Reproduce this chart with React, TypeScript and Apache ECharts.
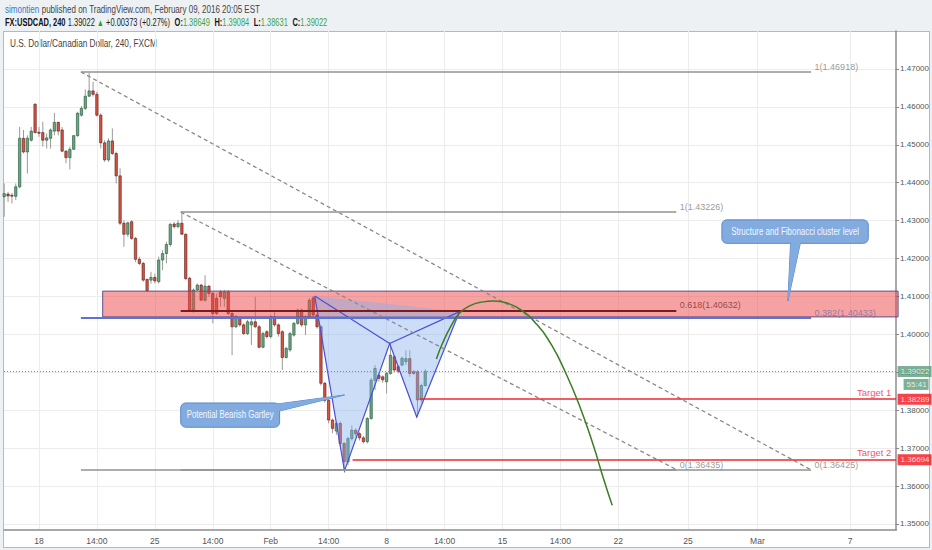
import React, { useEffect, useRef } from 'react';
import * as echarts from 'echarts';

// ---- axis ----
const X_MIN = -9.05;
const X_MAX = 221.9;
const Y_MIN = 1.3484;
const Y_MAX = 1.48;
const xTickPos = [0, 15, 30, 45, 60, 75, 90, 105, 120, 135, 150, 168, 186, 210];
const xTickLabels = ['18', '14:00', '25', '14:00', 'Feb', '14:00', '8', '14:00', '15', '14:00', '22', '25', 'Mar', '7'];
const yTicks = [1.35, 1.36, 1.37, 1.38, 1.39, 1.4, 1.41, 1.42, 1.43, 1.44, 1.45, 1.46, 1.47];

// ---- candles (4h bars, first bar index) ----
const barStart = -9;
const opens = [
  1.4363, 1.4370, 1.4367, 1.4364, 1.4389, 1.4517, 1.4481, 1.4512, 1.4607,
  1.4533, 1.4532, 1.4512, 1.4517, 1.4536, 1.4559, 1.4539, 1.4483, 1.4466, 1.4488,
  1.4524, 1.4578, 1.4596, 1.4628, 1.4642, 1.4633, 1.4578, 1.4505, 1.4460, 1.4510,
  1.4477, 1.4418, 1.4293, 1.4264, 1.4297, 1.4253, 1.4198, 1.4187, 1.4145, 1.4143,
  1.4150, 1.4139, 1.4196, 1.4213, 1.4237, 1.4291, 1.4284, 1.4293, 1.4264, 1.4148,
  1.4064, 1.4117, 1.4130, 1.4090, 1.4127, 1.4108, 1.4095, 1.4112, 1.4095, 1.4112,
  1.4055, 1.4020, 1.4042, 1.4025, 1.4002, 1.4025, 1.4033, 1.4020, 1.3966, 1.4007,
  1.3994, 1.4046, 1.4025, 1.4007, 1.3939, 1.3959, 1.3998, 1.4029, 1.4064, 1.4025,
  1.4046, 1.4096, 1.4051, 1.4020, 1.3871, 1.3826, 1.3774, 1.3745, 1.3765, 1.3712,
  1.3664, 1.3725, 1.3747, 1.3738, 1.3727, 1.3717, 1.3778, 1.3879, 1.3892, 1.3888,
  1.3875, 1.3897, 1.3941, 1.3915, 1.3919, 1.3928, 1.3936, 1.3901, 1.3901, 1.3827,
  1.38649,
];
const closes = [
  1.4371, 1.4365, 1.4366, 1.4389, 1.4517, 1.4481, 1.4517, 1.4536, 1.4532,
  1.4531, 1.4512, 1.4518, 1.4539, 1.4559, 1.4536, 1.4483, 1.4466, 1.4488, 1.4524,
  1.4583, 1.4596, 1.4628, 1.4642, 1.4633, 1.4578, 1.4505, 1.4460, 1.4510, 1.4477,
  1.4418, 1.4293, 1.4264, 1.4294, 1.4253, 1.4198, 1.4187, 1.4143, 1.4115, 1.4150,
  1.4141, 1.4196, 1.4213, 1.4237, 1.4290, 1.4284, 1.4293, 1.4264, 1.4147, 1.4064,
  1.4117, 1.4130, 1.4090, 1.4127, 1.4108, 1.4055, 1.4055, 1.4099, 1.4112, 1.4055,
  1.4020, 1.4046, 1.4025, 1.4002, 1.4033, 1.4033, 1.4020, 1.3966, 1.4002, 1.3994,
  1.4046, 1.4025, 1.4002, 1.3939, 1.3963, 1.4002, 1.4029, 1.4064, 1.4025, 1.4046,
  1.4090, 1.4051, 1.4020, 1.3871, 1.3826, 1.3774, 1.3752, 1.3765, 1.3712, 1.3664,
  1.3725, 1.3747, 1.3738, 1.3727, 1.3717, 1.3778, 1.3879, 1.3910, 1.3884, 1.3880,
  1.3897, 1.3945, 1.3906, 1.3902, 1.3937, 1.3936, 1.3897, 1.3897, 1.3827, 1.3865,
  1.39022,
];
const lows = [
  1.4310, 1.4349, 1.4345, 1.4354, 1.4385, 1.4477, 1.4424, 1.4508, 1.4530,
  1.4521, 1.4495, 1.4490, 1.4490, 1.4525, 1.4525, 1.4481, 1.4451, 1.4435, 1.4486,
  1.4521, 1.4574, 1.4591, 1.4627, 1.4627, 1.4574, 1.4490, 1.4455, 1.4455, 1.4473,
  1.4398, 1.4288, 1.4231, 1.4257, 1.4249, 1.4191, 1.4183, 1.4139, 1.4112, 1.4134,
  1.4134, 1.4134, 1.4169, 1.4187, 1.4231, 1.4279, 1.4280, 1.4262, 1.4143, 1.4060,
  1.4057, 1.4115, 1.4089, 1.4086, 1.4099, 1.4029, 1.4051, 1.4073, 1.4073, 1.4051,
  1.3945, 1.4016, 1.4020, 1.3998, 1.3998, 1.3972, 1.4016, 1.3963, 1.3963, 1.3989,
  1.3989, 1.4020, 1.3994, 1.3906, 1.3936, 1.3954, 1.3994, 1.4025, 1.4020, 1.3998,
  1.4042, 1.4045, 1.4015, 1.3865, 1.3820, 1.3765, 1.3739, 1.3735, 1.3705, 1.3643,
  1.3655, 1.3720, 1.3730, 1.3720, 1.3712, 1.3712, 1.3775, 1.3853, 1.3875, 1.3872,
  1.3844, 1.3893, 1.3900, 1.3897, 1.3915, 1.3919, 1.3888, 1.3893, 1.3782, 1.3820,
  1.38631,
];
const highs = [
  1.4398, 1.4376, 1.4373, 1.4398, 1.4547, 1.4539, 1.4525, 1.4547, 1.4609,
  1.4547, 1.4561, 1.4530, 1.4543, 1.4584, 1.4561, 1.4547, 1.4486, 1.4495, 1.4525,
  1.4587, 1.4602, 1.4646, 1.4690, 1.4666, 1.4640, 1.4583, 1.4512, 1.4517, 1.4543,
  1.4482, 1.4438, 1.4301, 1.4297, 1.4301, 1.4257, 1.4205, 1.4191, 1.4147, 1.4165,
  1.4160, 1.4205, 1.4222, 1.4244, 1.4294, 1.4297, 1.4301, 1.4323, 1.4266, 1.4152,
  1.4121, 1.4134, 1.4133, 1.4156, 1.4130, 1.4112, 1.4108, 1.4117, 1.4117, 1.4117,
  1.4060, 1.4051, 1.4046, 1.4029, 1.4038, 1.4042, 1.4099, 1.4025, 1.4007, 1.4011,
  1.4051, 1.4064, 1.4029, 1.4011, 1.3967, 1.4007, 1.4033, 1.4068, 1.4068, 1.4051,
  1.4095, 1.4101, 1.4055, 1.4025, 1.3875, 1.3830, 1.3778, 1.3770, 1.3770, 1.3716,
  1.3730, 1.3760, 1.3752, 1.3742, 1.3732, 1.3782, 1.3885, 1.3919, 1.3897, 1.3892,
  1.3901, 1.3976, 1.3945, 1.3919, 1.3941, 1.3958, 1.3958, 1.3906, 1.3906, 1.3870,
  1.39084,
];

// ---- fibonacci retracements ----
const fib1X = [10.86, 199.9];
const fib1Levels = [1.46918, 1.40433, 1.36425];
const fib1Labels = ['1(1.46918)', '0.382(1.40433)', '0(1.36425)'];
const fib2X = [36.7, 165];
const fib2Levels = [1.43226, 1.40632, 1.36435];
const fib2Labels = ['1(1.43226)', '0.618(1.40632)', '0(1.36435)'];

// ---- structure zone ----
const zoneX = [16.5, X_MAX];
const zoneY = [1.4046, 1.4114];

// ---- gartley XABCD ----
const gartleyX = [71.4, 79.1, 90.8, 97.8, 108.9];
const gartleyY = [1.4101, 1.364, 1.3976, 1.3782, 1.406];

// ---- projection arc ----
const arcX = [102.9, 104.5, 106.8, 108.9, 111.5, 114.6, 117.9, 121.3, 124.9, 128.8, 132.7, 136.3, 139.9, 143.5, 146.1, 148.4];
const arcY = [1.3935, 1.3977, 1.4024, 1.4056, 1.4075, 1.4085, 1.4088, 1.4082, 1.4064, 1.4027, 1.3972, 1.39, 1.3813, 1.3708, 1.3621, 1.3549];

// ---- targets / last price ----
const lastPrice = 1.39022;
const targetLevels = [1.38289, 1.36694];
const targetStarts = [98.5, 81.2];
const targetNames = ['Target 1', 'Target 2'];
const countdown = '55:41';

// ---- callouts ----
const calloutTexts = ['Structure and Fibonacci cluster level', 'Potential Bearish Gartley'];
const calloutBoxes = [
  [176.8, 1.4302, 214.7, 1.424],
  [36.7, 1.3819, 62.3, 1.3755],
];
const calloutTails = [
  [[194.6, 1.4245], [197.2, 1.4245], [193.9, 1.4088]],
  [[61.5, 1.3816], [61.5, 1.3796], [79.1, 1.384]],
];
const calloutTextWidth = [128, 87];

const FONT = "'Liberation Sans Narrow','Liberation Sans',Arial,sans-serif";
const UP = '#6ba583';
const UP_B = '#225437';
const DN = '#d75442';
const DN_B = '#5b1a13';
const CLEAR = 'rgba(0,0,0,0)';

function fitScale(text: string, font: string, target: number) {
  try {
    const ctx = document.createElement('canvas').getContext('2d');
    if (!ctx) return 1;
    ctx.font = font;
    const w = ctx.measureText(text).width;
    return w > 0 ? Math.min(1, target / w) : 1;
  } catch (e) {
    return 1;
  }
}

export default function App() {
  const ref = useRef<HTMLDivElement>(null);

  useEffect(() => {
    if (!ref.current) return;
    const chart = echarts.init(ref.current, undefined, { renderer: 'svg' });

    const head1 = 'simontien published on TradingView.com, February 09, 2016 20:05 EST';
    const head2 = 'FX:USDCAD, 240 1.39022 ▲ +0.00373 (+0.27%)  O:1.38649  H:1.39084  L:1.38631  C:1.39022';
    const title = 'U.S. Dollar/Canadian Dollar, 240, FXCM';
    const s1 = fitScale(head1, `11px ${FONT}`, 255);
    const s2 = fitScale(head2, `11px ${FONT}`, 318);
    const s3 = fitScale(title, `10.5px ${FONT}`, 147);
    const cs = calloutTexts.map((t, k) => fitScale(t, `10px ${FONT}`, calloutTextWidth[k]));

    const candleData = opens.map((o, k) => [barStart + k, o, closes[k], lows[k], highs[k]]);

    const fibSegs: any[] = [];
    const fibLabelPts: any[] = [];
    const fib1Colors = ['#929292', '#5b74d4', '#929292'];
    const fib2Colors = ['#929292', '#7a1c1c', '#929292'];
    const fib1LabelColors = ['#808080', '#7b6f9c', '#808080'];
    const fib2LabelColors = ['#808080', '#7a3030', '#808080'];
    fib1Levels.forEach((lv, k) => {
      fibSegs.push({ coords: [[fib1X[0], lv], [fib1X[1], lv]], lineStyle: { color: fib1Colors[k], width: k === 1 ? 2 : 1.6 } });
      fibLabelPts.push({ value: [fib1X[1], lv], name: fib1Labels[k], label: { color: fib1LabelColors[k] } });
    });
    fib2Levels.forEach((lv, k) => {
      fibSegs.push({ coords: [[fib2X[0], lv], [fib2X[1], lv]], lineStyle: { color: fib2Colors[k], width: k === 1 ? 2 : 1.6 } });
      fibLabelPts.push({ value: [fib2X[1], lv], name: fib2Labels[k], label: { color: fib2LabelColors[k] } });
    });

    const trendSegs = [
      { coords: [[fib1X[0], fib1Levels[0]], [fib1X[1], fib1Levels[2]]] },
      { coords: [[fib2X[0], fib2Levels[0]], [fib2X[1], fib2Levels[2]]] },
    ];

    const targetSegs = targetLevels.map((lv, k) => ({ coords: [[targetStarts[k], lv], [X_MAX, lv]] }));

    const option: any = {
      animation: false,
      grid: { left: 4, right: 35, top: 31, bottom: 20 },
      xAxis: {
        type: 'value',
        min: X_MIN,
        max: X_MAX,
        axisLine: { show: true, onZero: false, lineStyle: { color: '#8c8c8c', width: 1.5 } },
        axisTick: { show: false, customValues: xTickPos },
        axisLabel: {
          customValues: xTickPos,
          formatter: (v: number) => {
            const k = xTickPos.indexOf(Math.round(v));
            return k >= 0 ? xTickLabels[k] : '';
          },
          color: '#555',
          fontSize: 8.5,
          fontFamily: FONT,
          margin: 6,
        },
        splitLine: { show: true, lineStyle: { color: '#ececec', width: 1 } },
      },
      yAxis: {
        type: 'value',
        position: 'right',
        min: Y_MIN,
        max: Y_MAX,
        axisLine: { show: true, onZero: false, lineStyle: { color: '#8c8c8c', width: 1.5 } },
        axisTick: { show: true, length: 3, customValues: yTicks, lineStyle: { color: '#888' } },
        axisLabel: {
          customValues: yTicks,
          formatter: (v: number) => v.toFixed(5),
          color: '#555',
          fontSize: 8,
          fontFamily: FONT,
          margin: 4,
        },
        splitLine: { show: true, lineStyle: { color: '#ececec', width: 1 } },
      },
      graphic: [
        {
          type: 'text',
          x: 5,
          y: 3,
          scaleX: s1,
          style: {
            text: '{a|simontien} {b|published on TradingView.com, February 09, 2016 20:05 EST}',
            rich: {
              a: { fill: '#3b78c4', fontSize: 11, fontFamily: FONT },
              b: { fill: '#444', fontSize: 11, fontFamily: FONT },
            },
          },
        },
        {
          type: 'text',
          x: 5,
          y: 16,
          scaleX: s2,
          style: {
            text:
              '{k|FX:USDCAD, 240} {n|1.39022} {g|▲} {n|+0.00373 (+0.27%)}  {k|O:}{v|1.38649}  {k|H:}{v|1.39084}  {k|L:}{v|1.38631}  {k|C:}{v|1.39022}',
            rich: {
              k: { fill: '#111', fontSize: 11, fontWeight: 'bold', fontFamily: FONT },
              n: { fill: '#222', fontSize: 11, fontFamily: FONT },
              g: { fill: '#27a02a', fontSize: 10, fontFamily: FONT },
              v: { fill: '#3da33d', fontSize: 11, fontFamily: FONT },
            },
          },
        },
        {
          type: 'text',
          x: 10,
          y: 38,
          scaleX: s3,
          style: { text: title, fill: '#444', fontSize: 10.5, fontFamily: FONT },
        },
      ],
      series: [
        {
          type: 'custom',
          name: 'candles',
          z: 2,
          data: candleData,
          encode: { x: 0, y: [1, 2, 3, 4] },
          renderItem: (params: any, api: any) => {
            const x = api.value(0);
            const o = api.value(1);
            const c = api.value(2);
            const l = api.value(3);
            const h = api.value(4);
            const pO = api.coord([x, o]);
            const pC = api.coord([x, c]);
            const pL = api.coord([x, l]);
            const pH = api.coord([x, h]);
            const w = api.size([1, 0])[0] * 0.62;
            const up = c >= o;
            const top = Math.min(pO[1], pC[1]);
            const hh = Math.max(Math.abs(pO[1] - pC[1]), 1);
            return {
              type: 'group',
              children: [
                { type: 'line', shape: { x1: pH[0], y1: pH[1], x2: pL[0], y2: pL[1] }, style: { stroke: '#9a9a9a', lineWidth: 1 } },
                { type: 'rect', shape: { x: pO[0] - w / 2, y: top, width: w, height: hh }, style: { fill: up ? UP : DN, stroke: up ? UP_B : DN_B, lineWidth: 0.6 } },
              ],
            };
          },
        },
        {
          type: 'custom',
          name: 'zone',
          z: 3,
          data: [[zoneX[0], zoneY[0]]],
          renderItem: (params: any, api: any) => {
            const p1 = api.coord([zoneX[0], zoneY[1]]);
            const p2 = api.coord([zoneX[1], zoneY[0]]);
            return {
              type: 'rect',
              shape: { x: p1[0], y: p1[1], width: p2[0] - p1[0] + 2, height: p2[1] - p1[1] },
              style: { fill: 'rgba(240,70,70,0.5)', stroke: '#5d4f8e', lineWidth: 1 },
            };
          },
        },
        {
          type: 'custom',
          name: 'gartley',
          z: 4,
          data: gartleyX.map((x, k) => [x, gartleyY[k]]),
          renderItem: (params: any, api: any) => {
            if (params.dataIndex !== 0) return null;
            const pts = gartleyX.map((x, k) => api.coord([x, gartleyY[k]]));
            const stroke = { stroke: '#4b4fd6', lineWidth: 1.2, fill: 'none' };
            return {
              type: 'group',
              children: [
                { type: 'polygon', shape: { points: pts }, style: { fill: 'rgba(130,175,235,0.42)' } },
                { type: 'polyline', shape: { points: pts }, style: stroke },
                { type: 'line', shape: { x1: pts[0][0], y1: pts[0][1], x2: pts[2][0], y2: pts[2][1] }, style: stroke },
                { type: 'line', shape: { x1: pts[2][0], y1: pts[2][1], x2: pts[4][0], y2: pts[4][1] }, style: stroke },
              ],
            };
          },
        },
        {
          type: 'lines',
          name: 'trend',
          coordinateSystem: 'cartesian2d',
          z: 5,
          silent: true,
          lineStyle: { color: '#8a8a8a', width: 1.3, type: [4, 3], opacity: 1 },
          data: trendSegs,
        },
        {
          type: 'lines',
          name: 'fib',
          coordinateSystem: 'cartesian2d',
          z: 5,
          silent: true,
          lineStyle: { opacity: 1 },
          data: fibSegs,
        },
        {
          type: 'lines',
          name: 'last',
          coordinateSystem: 'cartesian2d',
          z: 5,
          silent: true,
          lineStyle: { color: '#8a8a8a', width: 1, type: [1, 2], opacity: 1 },
          data: [{ coords: [[X_MIN, lastPrice], [X_MAX, lastPrice]] }],
        },
        {
          type: 'lines',
          name: 'targets',
          coordinateSystem: 'cartesian2d',
          z: 5,
          silent: true,
          lineStyle: { color: '#ec2a2f', width: 1.6, opacity: 1 },
          data: targetSegs,
        },
        {
          type: 'line',
          name: 'arc',
          z: 5,
          smooth: 0.5,
          symbol: 'none',
          lineStyle: { color: '#3c7d22', width: 1.5 },
          data: arcX.map((x, k) => [x, arcY[k]]),
        },
        {
          type: 'scatter',
          name: 'fibLabels',
          z: 6,
          symbolSize: 1,
          itemStyle: { color: CLEAR },
          data: fibLabelPts,
          label: {
            show: true,
            position: 'right',
            distance: 3,
            offset: [0, -5],
            formatter: (p: any) => p.name,
            fontSize: 9,
            fontFamily: FONT,
          },
        },
        {
          type: 'scatter',
          name: 'targetLabels',
          z: 6,
          symbolSize: 1,
          itemStyle: { color: CLEAR },
          data: targetLevels.map((lv, k) => ({ value: [220.8, lv], name: targetNames[k] })),
          label: {
            show: true,
            position: 'left',
            distance: 0,
            offset: [0, -7],
            formatter: (p: any) => p.name,
            color: '#ec2a2f',
            fontSize: 9.5,
            fontFamily: FONT,
          },
        },
        {
          type: 'scatter',
          name: 'tags',
          z: 7,
          clip: false,
          symbolSize: 1,
          itemStyle: { color: CLEAR },
          data: [
            { value: [X_MAX, lastPrice], name: lastPrice.toFixed(5), label: { backgroundColor: '#5e9c7c' } },
            { value: [X_MAX, lastPrice], name: countdown, label: { backgroundColor: '#5e9c7c', offset: [6, 13] } },
            { value: [X_MAX, targetLevels[0]], name: targetLevels[0].toFixed(5), label: { backgroundColor: '#f2141c' } },
            { value: [X_MAX, targetLevels[1]], name: targetLevels[1].toFixed(5), label: { backgroundColor: '#f2141c' } },
          ],
          label: {
            show: true,
            position: 'right',
            distance: 1,
            formatter: (p: any) => p.name,
            color: '#fff',
            fontSize: 8,
            fontFamily: FONT,
            padding: [2, 2, 1, 3],
          },
        },
        {
          type: 'custom',
          name: 'callouts',
          z: 8,
          data: calloutBoxes.map((b) => [b[0], b[1]]),
          renderItem: (params: any, api: any) => {
            const k = params.dataIndex;
            const b = calloutBoxes[k];
            const p1 = api.coord([b[0], b[1]]);
            const p2 = api.coord([b[2], b[3]]);
            const tail = calloutTails[k].map((pt) => api.coord(pt));
            const fill = '#82abdf';
            const stroke = '#5b8acb';
            const cx = (p1[0] + p2[0]) / 2;
            const cy = (p1[1] + p2[1]) / 2;
            return {
              type: 'group',
              children: [
                { type: 'polygon', shape: { points: tail }, style: { fill, stroke, lineWidth: 1 } },
                { type: 'rect', shape: { x: p1[0], y: p1[1], width: p2[0] - p1[0], height: p2[1] - p1[1], r: 5 }, style: { fill, stroke, lineWidth: 1 } },
                { type: 'polygon', shape: { points: tail }, style: { fill } },
                {
                  type: 'text',
                  x: cx,
                  y: cy,
                  scaleX: cs[k],
                  style: {
                    text: calloutTexts[k],
                    x: 0,
                    y: 0,
                    align: 'center',
                    verticalAlign: 'middle',
                    fill: '#f4f8ff',
                    fontSize: 10,
                    fontFamily: FONT,
                  },
                },
              ],
            };
          },
        },
      ],
    };

    chart.setOption(option);
    return () => chart.dispose();
  }, []);

  return (
    <div style={{ position: 'fixed', left: 0, top: 0, width: 932, height: 550, background: '#eef1f4', overflow: 'hidden' }}>
      <div style={{ position: 'absolute', left: 3, top: 31, width: 925, height: 515, background: '#fff', border: '1px solid #b8b8b8' }} />
      <div ref={ref} style={{ position: 'absolute', left: 0, top: 0, width: 932, height: 550 }} />
    </div>
  );
}
